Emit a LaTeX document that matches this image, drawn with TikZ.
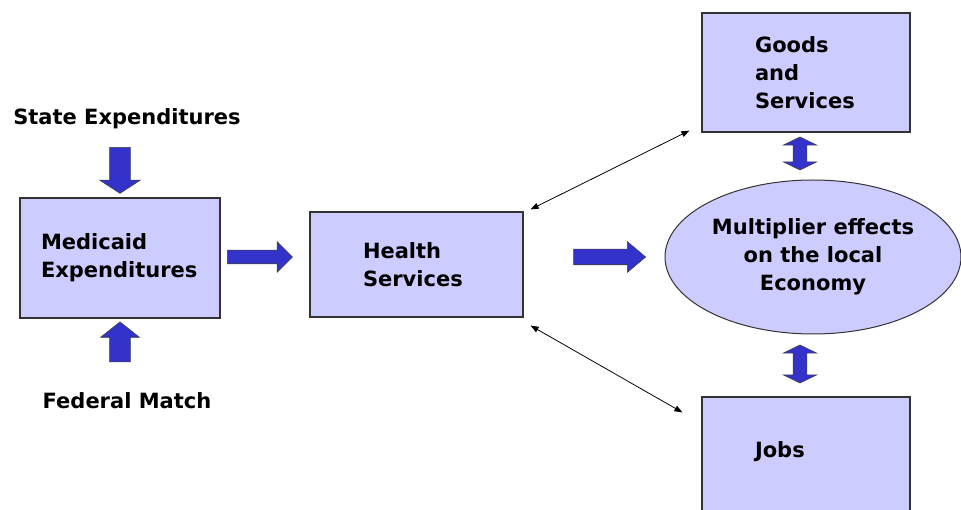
\documentclass[tikz,border=0pt]{standalone}
\usepackage{fontspec}
\setmainfont{DejaVu Sans}
\usetikzlibrary{shapes.geometric,shapes.arrows,arrows.meta}
\definecolor{boxfill}{RGB}{204,204,255}
\definecolor{arrowblue}{RGB}{51,51,204}
\begin{document}
\begin{tikzpicture}[x=1pt,y=-1pt,
    every node/.style={font=\fontsize{21}{28}\selectfont\bfseries},
    box/.style={rectangle,draw=black!80,line width=1.2pt,fill=boxfill,align=left,inner ysep=0pt},
    bigarrow/.style={single arrow,draw=black!75,line width=0.6pt,fill=arrowblue,inner xsep=0pt,single arrow head indent=0pt},
    duoarrow/.style={double arrow,draw=black!75,line width=0.6pt,fill=arrowblue,inner xsep=0pt,inner ysep=6.5pt,double arrow head indent=0pt,
        rotate=90,double arrow head extend=10pt,double arrow tip angle=128},
    link/.style={{Triangle[length=8pt,width=6pt]}-{Triangle[length=8pt,width=6pt]},line width=0.8pt}]
    \useasboundingbox (0,0) rectangle (961,510);
    \clip (0,0) rectangle (961,510);

    % boxes
    \node[box,minimum width=200pt,minimum height=120pt,inner xsep=21pt,text width=158pt] (medicaid) at (120,258) {Medicaid\\Expenditures};
    \node[box,minimum width=213pt,minimum height=105pt,inner xsep=53pt,text width=107pt] (health) at (416.5,264.5) {Health\\Services};
    \node[box,minimum width=208pt,minimum height=119pt,inner xsep=53pt,text width=102pt] (goods) at (806,72.5) {Goods\\and\\Services};
    \node[box,anchor=base,inner xsep=53pt,text width=102pt,text height=60pt,text depth=73pt] (jobs) at (806,457) {Jobs};
    \node[ellipse,draw=black!80,line width=1pt,fill=boxfill,minimum width=296pt,minimum height=154pt,inner sep=0pt,align=center]
        (economy) at (813,257) {Multiplier effects\\on the local\\Economy};

    % sources
    \node[anchor=base] (state) at (127,125) {State Expenditures};
    \node[anchor=base] (federal) at (127,408) {Federal Match};

    % block arrows
    \node[bigarrow,rotate=-90,minimum height=46pt,inner ysep=10pt,single arrow head extend=10pt,single arrow tip angle=114] (statein) at (120,167) {};
    \node[bigarrow,rotate=90,minimum height=40pt,inner ysep=10pt,single arrow head extend=9pt,single arrow tip angle=103] (federalin) at (120,346) {};
    \node[bigarrow,minimum height=65pt,inner ysep=6.5pt,single arrow head extend=8.5pt] (medtohealth) at (256.5,257) {};
    \node[bigarrow,minimum height=72pt,inner ysep=7.5pt,single arrow head extend=7.5pt,single arrow tip angle=80] (healthtoecon) at (605,257) {};
    \node[duoarrow,minimum height=33pt] (goodsecon) at (800,153.5) {};
    \node[duoarrow,minimum height=38pt] (econjobs) at (800,364) {};

    % thin links
    \draw[link] ([xshift=7pt,yshift=2pt]health.north east) -- ([xshift=-12pt,yshift=2pt]goods.south west);
    \draw[link] ([xshift=7pt,yshift=-8pt]health.south east) -- ([xshift=-19pt,yshift=-16pt]jobs.north west);
\end{tikzpicture}
\end{document}
